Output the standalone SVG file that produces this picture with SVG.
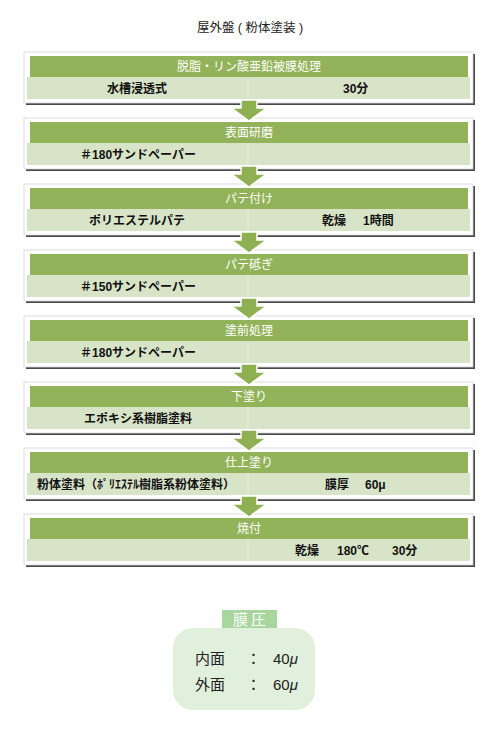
<svg xmlns="http://www.w3.org/2000/svg" width="500" height="729" viewBox="0 0 500 729">
<style>
text{font-family:"Liberation Sans","Noto Sans CJK JP",sans-serif;}
.title{font-size:12.5px;fill:#222;text-anchor:middle;}
.shadow{fill:#4a4a4a;filter:url(#blur);}
.outer{fill:#fff;stroke:#d4d4d4;stroke-width:0.8;}
.head{fill:#93b35a;}
.row{fill:#d8e4c7;}
.div{stroke:#e9efe0;stroke-width:1;}
.ht{font-size:12px;fill:#fff;text-anchor:middle;}
.lt{font-size:12px;font-weight:bold;fill:#111;text-anchor:middle;}
.rt{font-size:12px;font-weight:bold;fill:#111;}
.arrow{fill:#8fb052;stroke:#fff;stroke-width:1.5;}
.mlabel{fill:#a9d59f;}
.mbox{fill:#e1f0dc;}
.mt{font-size:15px;fill:#222;}
.mlt{font-size:15px;fill:#fff;text-anchor:middle;letter-spacing:3px;}
</style>
<defs>
<filter id="blur" x="-5%" y="-20%" width="110%" height="140%"><feGaussianBlur stdDeviation="0.7"/></filter>
</defs>
<rect width="500" height="729" fill="#fff"/>
<text class="title" x="250" y="32">屋外盤 ( 粉体塗装 )</text>

<g id="step1">
<rect class="shadow" x="26" y="54" width="449" height="51"/>
<rect class="outer" x="24" y="52" width="449" height="51"/>
<rect class="head" x="30" y="56" width="438" height="21"/>
<rect class="row" x="27" y="77" width="443" height="22"/>
<line class="div" x1="248" y1="77" x2="248" y2="99"/>
<text class="ht" x="249" y="71">脱脂・リン酸亜鉛被膜処理</text>
<text class="lt" x="137" y="93">水槽浸透式</text>
<text class="rt" x="343" y="93">30分</text>
</g>

<g id="step2">
<rect class="shadow" x="26" y="120" width="449" height="51"/>
<rect class="outer" x="24" y="118" width="449" height="51"/>
<rect class="head" x="30" y="122" width="438" height="21"/>
<rect class="row" x="27" y="143" width="443" height="22"/>
<line class="div" x1="248" y1="143" x2="248" y2="165"/>
<text class="ht" x="249" y="137">表面研磨</text>
<text class="lt" x="138" y="159">＃180サンドペーパー</text>
</g>

<g id="step3">
<rect class="shadow" x="26" y="186" width="449" height="51"/>
<rect class="outer" x="24" y="184" width="449" height="51"/>
<rect class="head" x="30" y="188" width="438" height="21"/>
<rect class="row" x="27" y="209" width="443" height="22"/>
<line class="div" x1="248" y1="209" x2="248" y2="231"/>
<text class="ht" x="249" y="203">パテ付け</text>
<text class="lt" x="137" y="225">ポリエステルパテ</text>
<text class="rt" x="322" y="225">乾燥<tspan x="363">1時間</tspan></text>
</g>

<g id="step4">
<rect class="shadow" x="26" y="252" width="449" height="51"/>
<rect class="outer" x="24" y="250" width="449" height="51"/>
<rect class="head" x="30" y="254" width="438" height="21"/>
<rect class="row" x="27" y="275" width="443" height="22"/>
<line class="div" x1="248" y1="275" x2="248" y2="297"/>
<text class="ht" x="249" y="269">パテ砥ぎ</text>
<text class="lt" x="138" y="291">＃150サンドペーパー</text>
</g>

<g id="step5">
<rect class="shadow" x="26" y="318" width="449" height="51"/>
<rect class="outer" x="24" y="316" width="449" height="51"/>
<rect class="head" x="30" y="320" width="438" height="21"/>
<rect class="row" x="27" y="341" width="443" height="22"/>
<line class="div" x1="248" y1="341" x2="248" y2="363"/>
<text class="ht" x="249" y="335">塗前処理</text>
<text class="lt" x="138" y="357">＃180サンドペーパー</text>
</g>

<g id="step6">
<rect class="shadow" x="26" y="384" width="449" height="51"/>
<rect class="outer" x="24" y="382" width="449" height="51"/>
<rect class="head" x="30" y="386" width="438" height="21"/>
<rect class="row" x="27" y="407" width="443" height="22"/>
<line class="div" x1="248" y1="407" x2="248" y2="429"/>
<text class="ht" x="249" y="401">下塗り</text>
<text class="lt" x="138" y="423">エポキシ系樹脂塗料</text>
</g>

<g id="step7">
<rect class="shadow" x="26" y="450" width="449" height="51"/>
<rect class="outer" x="24" y="448" width="449" height="51"/>
<rect class="head" x="30" y="452" width="438" height="21"/>
<rect class="row" x="27" y="473" width="443" height="22"/>
<line class="div" x1="248" y1="473" x2="248" y2="495"/>
<text class="ht" x="249" y="467">仕上塗り</text>
<text class="lt" x="136" y="489">粉体塗料（ﾎﾟﾘｴｽﾃﾙ樹脂系粉体塗料）</text>
<text class="rt" x="325" y="489">膜厚<tspan x="365">60μ</tspan></text>
</g>

<g id="step8">
<rect class="shadow" x="26" y="516" width="449" height="51"/>
<rect class="outer" x="24" y="514" width="449" height="51"/>
<rect class="head" x="30" y="518" width="438" height="21"/>
<rect class="row" x="27" y="539" width="443" height="22"/>
<line class="div" x1="248" y1="539" x2="248" y2="561"/>
<text class="ht" x="249" y="533">焼付</text>
<text class="rt" x="295" y="555">乾燥<tspan x="337">180℃</tspan><tspan x="392">30分</tspan></text>
</g>

<g id="connectors">
<polygon class="arrow" points="241,100 257,100 257,108 266.5,108 249,121 231.5,108 241,108"/>
<polygon class="arrow" points="241,166 257,166 257,174 266.5,174 249,187 231.5,174 241,174"/>
<polygon class="arrow" points="241,232 257,232 257,240 266.5,240 249,253 231.5,240 241,240"/>
<polygon class="arrow" points="241,298 257,298 257,306 266.5,306 249,319 231.5,306 241,306"/>
<polygon class="arrow" points="241,364 257,364 257,372 266.5,372 249,385 231.5,372 241,372"/>
<polygon class="arrow" points="241,430 257,430 257,438 266.5,438 249,451 231.5,438 241,438"/>
<polygon class="arrow" points="241,496 257,496 257,504 266.5,504 249,517 231.5,504 241,504"/>
</g>

<g id="membrane">
<rect class="mbox" x="173" y="628" width="142" height="82" rx="20" ry="20"/>
<rect class="mlabel" x="222" y="610" width="55" height="18"/>
<text class="mlt" x="251" y="625">膜圧</text>
<text class="mt" x="195" y="664">内面</text>
<text class="mt" x="246" y="664">：</text>
<text class="mt" x="273" y="664">40<tspan font-style="italic">μ</tspan></text>
<text class="mt" x="195" y="690">外面</text>
<text class="mt" x="246" y="690">：</text>
<text class="mt" x="273" y="690">60<tspan font-style="italic">μ</tspan></text>
</g>
</svg>
